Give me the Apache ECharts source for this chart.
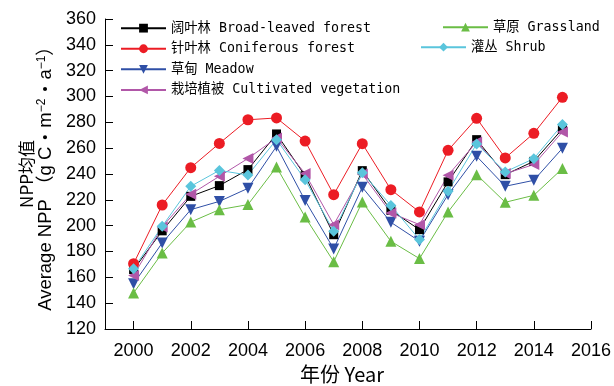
<!DOCTYPE html>
<html>
<head>
<meta charset="utf-8">
<script src="https://cdn.jsdelivr.net/npm/echarts@6/dist/echarts.min.js"></script>
<style>html,body{margin:0;padding:0;background:#fff}#c{width:614px;height:386px}</style>
</head>
<body>
<div id="c"></div>
<script>
const years = [2000,2001,2002,2003,2004,2005,2006,2007,2008,2009,2010,2011,2012,2013,2014,2015];
const tickYears = [2000,2002,2004,2006,2008,2010,2012,2014,2016];
const broadleaved = [166,196,222.7,231,243.4,271,238.7,193,242.6,211.9,196.9,233.9,266.6,239.5,249.8,274.9];
const coniferous  = [170.6,216,244.9,263.7,282,283.4,265.5,224,263.5,227.9,210.6,258.3,283.1,252.4,271.5,299.4];
const meadow      = [155,186.6,212.4,218.8,228.9,261.4,219.4,182,229.7,202.6,188,224,253.7,230.5,235.1,259.9];
const cultivated  = [161.5,199,224.3,238.2,252,267.9,240.3,200.8,240,209.9,200.8,239,264.8,240.3,247.3,272.6];
const grassland   = [147.9,178.8,202.8,212.4,216.3,245.4,206.7,172.1,218.4,187.9,174.5,210.6,239.5,218.1,223.5,244.2];
const shrub       = [166.7,199.5,230.5,242.8,239.2,266.6,235.6,195.6,241,215.7,189.2,226.6,263.3,241.6,251.9,278.3];

const names = {
  broad: '阔叶林 Broad-leaved forest',
  conif: '针叶林 Coniferous forest',
  meadow: '草甸 Meadow',
  cult: '栽培植被 Cultivated vegetation',
  grass: '草原 Grassland',
  shrub: '灌丛 Shrub'
};

function pairs(vals){ return years.map((y,i)=>[y, vals[i]]); }

function mk(name, vals, color, symbol, size, rotate){
  return {
    name: name, type: 'line', data: pairs(vals),
    symbol: symbol, symbolSize: size, symbolRotate: rotate || 0,
    lineStyle: {color: color, width: 1},
    itemStyle: {color: color},
    showAllSymbol: true,
    animation: false
  };
}

const legendFont = {fontFamily: '"DejaVu Sans Mono","Noto Sans CJK SC",monospace', fontSize: 13.3, color: '#000'};
const chart = echarts.init(document.getElementById('c'), null, {renderer: 'canvas'});
chart.setOption({
  animation: false,
  grid: {left: 105, right: 23, top: 19, bottom: 57, outerBoundsMode: 'none', containLabel: false},
  legend: [
    {orient: 'vertical', left: 115, top: 16.5, itemGap: 7.3, itemWidth: 45, itemHeight: 11,
     data: [names.broad, names.conif, names.meadow, names.cult], textStyle: legendFont},
    {orient: 'vertical', left: 437, top: 15.5, itemWidth: 45, itemHeight: 11,
     data: [names.grass], textStyle: legendFont},
    {orient: 'vertical', left: 415, top: 35.5, itemWidth: 45, itemHeight: 11,
     data: [names.shrub], textStyle: legendFont}
  ],
  xAxis: {
    type: 'value', min: 1999, max: 2016, interval: 1,
    name: '年份 Year', nameLocation: 'middle', nameGap: 33,
    nameTextStyle: {fontFamily: '"Noto Sans CJK SC","Liberation Sans"', fontSize: 20, color: '#000', padding: [0, 12, 0, 0]},
    axisLine: {lineStyle: {color: '#000', width: 1}},
    axisTick: {inside: true, length: 8, customValues: tickYears, lineStyle: {color: '#000'}},
    axisLabel: {customValues: tickYears, margin: 13, fontFamily: '"Liberation Sans",Arial', fontSize: 18, color: '#000',
      formatter: v => String(v)},
    splitLine: {show: false}
  },
  yAxis: {
    type: 'value', min: 120, max: 360, interval: 20,
    name: '{a|NPP均值}\n{b|Average NPP （g C}{d|・}{b|m}{s|−2}{d|・}{b|a}{s|−1}{b|）}',
    nameLocation: 'middle', nameGap: 49, nameRotate: 90,
    nameTextStyle: {
      color: '#000',
      rich: {
        a: {fontFamily: '"Noto Sans CJK SC"', fontSize: 17, lineHeight: 19, color: '#000'},
        b: {fontFamily: '"Liberation Sans","Noto Sans CJK SC"', fontSize: 18.5, lineHeight: 19, color: '#000'},
        d: {fontFamily: '"Noto Sans CJK SC"', fontSize: 19, lineHeight: 19, color: '#000'},
        s: {fontFamily: '"Liberation Sans"', fontSize: 12, lineHeight: 8, verticalAlign: 'top', color: '#000'}
      }
    },
    axisLine: {show: true, lineStyle: {color: '#000', width: 1}},
    axisTick: {inside: true, length: 8, lineStyle: {color: '#000'}},
    axisLabel: {margin: 9, fontFamily: '"Liberation Sans",Arial', fontSize: 18, color: '#000'},
    splitLine: {show: false}
  },
  series: [
    mk(names.broad, broadleaved, '#000000', 'rect', 9),
    mk(names.conif, coniferous, '#ec1c24', 'circle', 11),
    mk(names.meadow, meadow, '#2f4fa6', 'triangle', 11, 180),
    mk(names.cult, cultivated, '#b157a8', 'triangle', 11, 90),
    mk(names.grass, grassland, '#6abd45', 'triangle', 11),
    mk(names.shrub, shrub, '#5ac5dc', 'diamond', 11)
  ]
});
</script>
</body>
</html>
